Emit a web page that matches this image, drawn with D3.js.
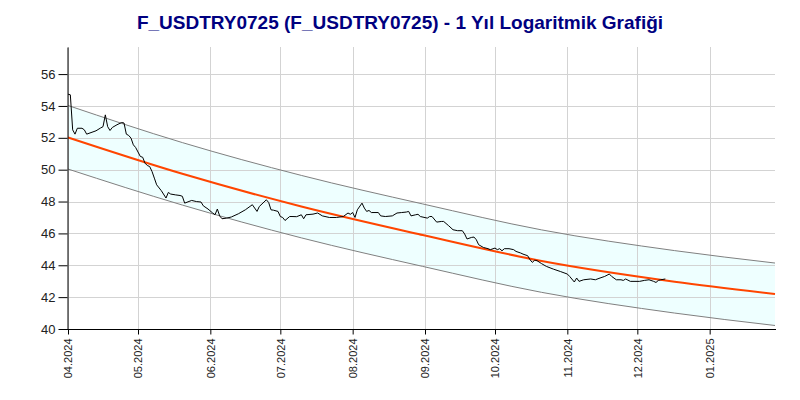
<!DOCTYPE html>
<html>
<head>
<meta charset="utf-8">
<script src="https://cdn.jsdelivr.net/npm/d3@7"></script>
<style>
  body { margin: 0; background: #fff; }
  svg { display: block; font-family: "Liberation Sans", Arial, sans-serif; }
</style>
</head>
<body>
<svg id="chart" width="800" height="400"></svg>
<script>
const title = "F_USDTRY0725 (F_USDTRY0725) - 1 Yıl Logaritmik Grafiği";

const dates = [
  "2024-04-01","2024-04-02","2024-04-03","2024-04-04","2024-04-05","2024-04-07","2024-04-08","2024-04-09","2024-04-13","2024-04-15","2024-04-16","2024-04-17","2024-04-18","2024-04-19","2024-04-20","2024-04-22","2024-04-24","2024-04-25","2024-04-26","2024-04-27","2024-04-28","2024-04-29","2024-04-30",
  "2024-05-02","2024-05-03","2024-05-04","2024-05-05","2024-05-06","2024-05-07","2024-05-08","2024-05-09","2024-05-11","2024-05-13","2024-05-14","2024-05-15","2024-05-17","2024-05-19","2024-05-20","2024-05-21","2024-05-24","2024-05-26","2024-05-28","2024-05-29","2024-05-31",
  "2024-06-02","2024-06-03","2024-06-04","2024-06-05","2024-06-06","2024-06-08","2024-06-10","2024-06-13","2024-06-16","2024-06-19","2024-06-21","2024-06-22","2024-06-25","2024-06-26","2024-06-27","2024-06-28","2024-06-30",
  "2024-07-01","2024-07-02","2024-07-03","2024-07-05","2024-07-06","2024-07-08","2024-07-10","2024-07-11","2024-07-12","2024-07-15","2024-07-17","2024-07-19","2024-07-22","2024-07-25","2024-07-28","2024-07-30","2024-07-31",
  "2024-08-01","2024-08-02","2024-08-03","2024-08-05","2024-08-06","2024-08-07","2024-08-08","2024-08-09","2024-08-12","2024-08-13","2024-08-15","2024-08-18","2024-08-20","2024-08-22","2024-08-24","2024-08-25","2024-08-26","2024-08-28","2024-08-29","2024-08-30",
  "2024-09-02","2024-09-03","2024-09-04","2024-09-06","2024-09-08","2024-09-09","2024-09-11","2024-09-13","2024-09-15","2024-09-17","2024-09-18","2024-09-19","2024-09-21","2024-09-22","2024-09-23","2024-09-24","2024-09-26","2024-09-28","2024-09-29",
  "2024-10-01","2024-10-02","2024-10-03","2024-10-04","2024-10-05","2024-10-07","2024-10-09","2024-10-10","2024-10-12","2024-10-13","2024-10-15","2024-10-16","2024-10-17","2024-10-18","2024-10-19","2024-10-21","2024-10-23","2024-10-26","2024-10-29",
  "2024-11-01","2024-11-02","2024-11-04","2024-11-05","2024-11-06","2024-11-08","2024-11-11","2024-11-13","2024-11-15","2024-11-17","2024-11-19","2024-11-20","2024-11-22","2024-11-24","2024-11-25","2024-11-26","2024-11-28","2024-11-30",
  "2024-12-02","2024-12-04","2024-12-06","2024-12-08","2024-12-09","2024-12-10","2024-12-11","2024-12-13"
];
const prices = [
  54.74,54.70,52.50,52.23,52.60,52.60,52.50,52.23,52.44,52.62,52.70,53.44,52.70,52.46,52.65,52.82,52.96,52.93,52.23,52.15,51.98,51.56,51.39,
  50.83,50.78,50.41,50.26,50.20,49.89,49.47,49.05,48.68,48.22,48.57,48.47,48.42,48.38,48.33,47.90,48.07,48.00,47.97,47.73,47.53,
  47.28,47.17,47.53,47.10,46.92,46.96,47.03,47.23,47.48,47.80,47.38,47.69,48.11,47.94,47.48,47.46,47.38,
  47.06,47.00,46.81,47.06,47.06,47.05,47.17,46.92,47.17,47.21,47.28,47.10,47.00,47.00,47.06,47.28,47.20,
  47.31,47.00,47.48,47.90,47.59,47.38,47.44,47.31,47.31,47.10,47.06,47.10,47.28,47.31,47.34,47.38,47.10,47.17,47.20,47.06,
  46.96,47.06,47.06,46.71,46.75,46.75,46.50,46.23,46.17,46.17,45.96,45.65,45.75,45.77,45.60,45.29,45.12,45.04,44.98,
  45.08,44.98,45.04,44.91,45.04,45.04,44.98,44.87,44.77,44.70,44.60,44.35,44.18,44.32,44.29,44.10,43.93,43.76,43.61,
  43.45,43.30,42.95,43.20,42.99,43.09,43.14,43.09,43.20,43.30,43.45,43.30,43.09,43.09,43.05,43.14,42.99,42.99,
  42.99,43.05,43.09,42.99,42.92,43.05,43.09,43.14
];

const trendDates = ["2024-04-01","2024-05-20","2024-07-10","2024-08-31","2024-10-21","2024-12-17","2025-01-29"];
const trendValues = [52.02, 49.74, 47.69, 45.90, 44.27, 42.97, 42.20];
const upperValues = [54.03, 51.70, 49.64, 47.85, 46.22, 44.92, 44.14];
const lowerValues = [50.04, 47.78, 45.72, 43.93, 42.30, 41.00, 40.22];

const yTicks = [40, 42, 44, 46, 48, 50, 52, 54, 56];
const xStart = "2024-04-01";
const xEnd = "2025-01-29";
const yMin = 40, yMax = 57.7;

const parse = d3.utcParse("%Y-%m-%d");
const svg = d3.select("#chart");

const mLeft = 68, mRight = 775, mTop = 47, mBottom = 329;

const x = d3.scaleUtc().domain([parse(xStart), parse(xEnd)]).range([mLeft, mRight]);
const y = d3.scaleLinear().domain([yMin, yMax]).range([mBottom, mTop]);

const series = dates.map((d, i) => ({ date: parse(d), v: prices[i] }));
const trend = trendDates.map((d, i) => ({ date: parse(d), t: trendValues[i], u: upperValues[i], l: lowerValues[i] }));

// Band fill
svg.append("path")
  .datum(trend)
  .attr("fill", "#eeffff")
  .attr("d", d3.area().curve(d3.curveMonotoneX)
    .x(d => x(d.date)).y0(d => y(d.l)).y1(d => y(d.u)));

// Grid
const monthTicks = d3.utcMonth.range(parse(xStart), d3.utcDay.offset(parse(xEnd), 1));
svg.append("g")
  .selectAll("line").data(yTicks).join("line")
  .attr("x1", mLeft).attr("x2", mRight)
  .attr("y1", d => Math.round(y(d)) + 0.5).attr("y2", d => Math.round(y(d)) + 0.5)
  .attr("stroke", "#d3d3d3").attr("stroke-width", 1);
svg.append("g")
  .selectAll("line").data(monthTicks).join("line")
  .attr("x1", d => Math.round(x(d)) + 0.5).attr("x2", d => Math.round(x(d)) + 0.5)
  .attr("y1", mTop).attr("y2", mBottom)
  .attr("stroke", "#d3d3d3").attr("stroke-width", 1);

// Band edges
const lineGen = key => d3.line().curve(d3.curveMonotoneX).x(d => x(d.date)).y(d => y(d[key]));
svg.append("path").datum(trend).attr("fill", "none").attr("stroke", "#808080").attr("stroke-width", 1).attr("d", lineGen("u"));
svg.append("path").datum(trend).attr("fill", "none").attr("stroke", "#808080").attr("stroke-width", 1).attr("d", lineGen("l"));

// Trend
svg.append("path").datum(trend).attr("fill", "none").attr("stroke", "#ff4500").attr("stroke-width", 2).attr("d", lineGen("t"));

// Price line
svg.append("path").datum(series).attr("fill", "none").attr("stroke", "#000").attr("stroke-width", 1)
  .attr("stroke-linejoin", "round")
  .attr("d", d3.line().x(d => x(d.date)).y(d => y(d.v)));

// Y axis
const yAxis = svg.append("g").attr("transform", `translate(${mLeft - 0.5},0)`)
  .call(d3.axisLeft(y).tickValues(yTicks).tickSize(9).tickSizeOuter(0).tickPadding(3).tickFormat(d3.format("d")));
yAxis.select(".domain").attr("stroke", "#000");
yAxis.selectAll(".tick line").attr("stroke", "#000");
yAxis.selectAll("text").attr("font-size", 13).attr("fill", "#222").attr("font-family", "Liberation Sans, Arial, sans-serif");

// X axis
const xAxis = svg.append("g").attr("transform", `translate(0,${mBottom + 0.5})`)
  .call(d3.axisBottom(x).tickValues(monthTicks).tickSize(5).tickSizeOuter(0).tickFormat(d3.utcFormat("%m.%Y")));
xAxis.select(".domain").attr("stroke", "#000").attr("d", `M${mLeft - 9},0H${mRight + 1}`);
xAxis.selectAll(".tick line").attr("stroke", "#000");
xAxis.selectAll("text")
  .attr("font-size", 11).attr("fill", "#222").attr("font-family", "Liberation Sans, Arial, sans-serif")
  .attr("transform", "rotate(-90)")
  .attr("text-anchor", "end")
  .attr("x", -9).attr("y", 0).attr("dy", "0.35em");

// Title
svg.append("text")
  .attr("x", 400).attr("y", 29)
  .attr("text-anchor", "middle")
  .attr("font-size", 19).attr("font-weight", "bold").attr("fill", "#000080")
  .attr("font-family", "Liberation Sans, Arial, sans-serif")
  .text(title);
</script>
</body>
</html>
